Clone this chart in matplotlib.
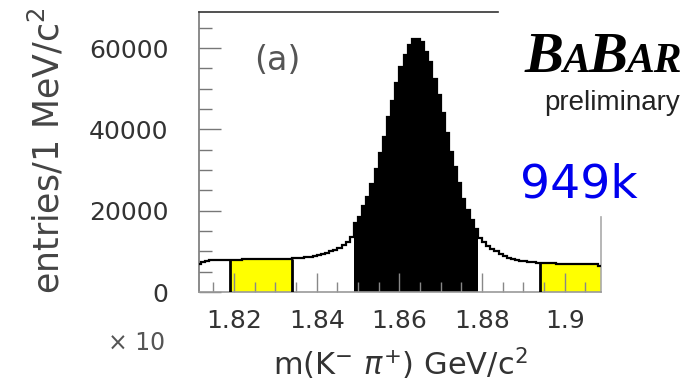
import numpy as np
import matplotlib.pyplot as plt
from matplotlib.ticker import MultipleLocator

plt.rcParams['mathtext.fontset'] = 'dejavusans'

# bin edges in GeV (1 MeV bins)
edges = np.round(np.arange(1.811, 1.9095, 0.001), 3)
# entries per bin
left_tail = [7000, 7400, 7700, 7800, 7850, 7900, 7900, 7900,
             7900, 7950, 7950, 8000, 8000, 8000, 8050, 8050, 8100, 8100, 8100,
             8150, 8150, 8200, 8200,
             8250, 8350, 8450, 8600, 8700, 8900, 9150, 9400, 9700, 10000,
             10400, 10900, 11500, 12300, 13500]
signal = [16900, 18500, 21150, 23450, 26570, 30180, 34100, 38200, 42970, 47070,
          51500, 55270, 58300, 60760, 62160, 62200, 61500, 59000, 56600, 52300,
          48400, 44000, 39200, 34500, 30700, 26700, 23000, 20200, 17700, 15400]
right_tail = [13300, 12400, 11300, 10600, 10000, 9400, 8800, 8400, 8100, 7900,
              7750, 7650, 7500, 7400, 7250,
              7100, 7100, 7050, 7050, 7000, 7000, 7000, 6950, 6950, 6950,
              6900, 6900, 6900, 6850, 6400]
counts = np.array(left_tail + signal + right_tail, dtype=float)

signal_win = (1.849, 1.879)
sidebands = [(1.819, 1.834), (1.894, 1.909)]

xticks = [1.82, 1.84, 1.86, 1.88, 1.90]
xtick_labels = ['1.82', '1.84', '1.86', '1.88', '1.9']
yticks = [0, 20000, 40000, 60000]

xlim = (1.8115, 1.9088)
ylim = (0, 68900)


def idx(x):
    return int(round((x - edges[0]) / 0.001))


fig = plt.figure(figsize=(6.96, 3.83), dpi=100)
ax = fig.add_axes([199/696, 1-292/383, 402/696, 280/383])

# full histogram outline
ax.stairs(counts, edges, baseline=None, color='black', lw=1.6, zorder=3)

# signal region
i0, i1 = idx(signal_win[0]), idx(signal_win[1])
ax.stairs(counts[i0:i1], edges[i0:i1+1], fill=True, color='black', zorder=1)

# sidebands
for lo, hi in sidebands:
    a, b = idx(lo), idx(hi)
    ax.stairs(counts[a:b], edges[a:b+1], fill=True, color='#ffff00', zorder=1)
    ax.vlines([edges[a], edges[b]], 0, [counts[a], counts[b-1]],
              color='black', lw=2, zorder=3)

ax.set_xlim(*xlim)
ax.set_ylim(*ylim)

ax.set_xticks(xticks)
ax.set_xticklabels(xtick_labels)
ax.xaxis.set_minor_locator(MultipleLocator(0.005))
ax.set_yticks(yticks)
ax.yaxis.set_minor_locator(MultipleLocator(5000))

ax.tick_params(axis='x', which='major', direction='in', length=13.5, width=1,
               color='#888888', labelsize=18, labelcolor='#333333', pad=12)
ax.tick_params(axis='x', which='minor', direction='in', length=7.5, width=1,
               color='#888888')
ax.tick_params(axis='y', which='major', direction='in', length=15.5, width=1,
               color='#777777', labelsize=18, labelcolor='#333333', pad=22)
ax.tick_params(axis='y', which='minor', direction='in', length=9, width=1,
               color='#777777')
ax.tick_params(top=False, right=False, which='both')

# frame: top line stops at the logo, right line only low down
xr = xlim[0] + (498 - 199) / 402 * (xlim[1] - xlim[0])
ax.spines['top'].set_bounds(xlim[0], xr)
ax.spines['top'].set_color('#333333')
ax.spines['right'].set_bounds(0, 18400)
ax.spines['right'].set_color('#aaaaaa')
ax.spines['left'].set_color('#777777')
ax.spines['bottom'].set_color('#999999')
for s in ax.spines.values():
    s.set_linewidth(1.2)

fig.text(47/696, 1-151/383, 'entries/1 MeV/c$^{2}$', rotation=90,
         ha='center', va='center', fontsize=25, color='#444444')
fig.text(400/696, 1-375/383, r'm(K$^{-}$ $\pi^{+}$) GeV/c$^{2}$',
         ha='center', va='baseline', fontsize=22, color='#333333')
fig.text(137/696, 1-343/383, '× 10', ha='center', va='center',
         fontsize=17, color='#555555')
ax.text(277/696, 1-60/383, '(a)', transform=fig.transFigure, ha='center',
        va='center', fontsize=24, color='#555555')

# BaBar logo
serif = dict(family='Liberation Serif', weight='bold', style='italic',
             color='black', va='baseline', ha='left')
fig.text(525/696, 1-72/383, 'B', fontsize=42, **serif)
fig.text(562/696, 1-72/383, 'A', fontsize=30, **serif)
fig.text(589/696, 1-72/383, 'B', fontsize=42, **serif)
fig.text(626/696, 1-72/383, 'AR', fontsize=30, **serif)
fig.text(680/696, 1-110/383, 'preliminary', family='Liberation Sans',
         fontsize=20, color='#222222', ha='right', va='baseline')
fig.text(520/696, 1-197/383, '949k', fontsize=34, color='#0000ee',
         ha='left', va='baseline')

fig.savefig('out.png', dpi=100)
